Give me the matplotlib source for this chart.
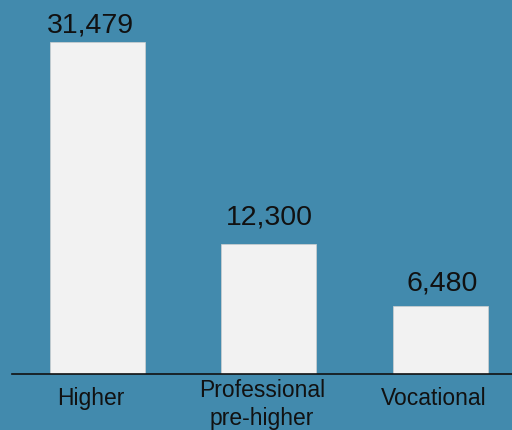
import matplotlib.pyplot as plt
import matplotlib.transforms as mtransforms

categories = ["Higher", "Professional\npre-higher", "Vocational"]
values = [31479, 12300, 6480]

# label nudges in pixels (dx, dy above the bar top)
label_dx = [-7, 0, 2]
label_dy = [10, 20, 15]

bg = "#428aad"
plt.rcParams['font.family'] = ['Liberation Sans', 'DejaVu Sans']

fig = plt.figure(figsize=(5.12, 4.30), dpi=100, facecolor=bg)
ax = fig.add_axes([12/512, 56/430, 500/512, 374/430])
ax.set_facecolor(bg)

x = range(len(values))
bars = ax.bar(x, values, width=0.554, color="#f2f2f2",
              edgecolor="#d0d0d0", linewidth=0.5, zorder=2)

for b, v, dx, dy in zip(bars, values, label_dx, label_dy):
    ax.annotate(f"{v:,}", (b.get_x() + b.get_width()/2, v),
                xytext=(dx*0.72, dy*0.72), textcoords="offset points",
                ha="center", va="baseline", fontsize=20.5, color="#111111")

ax.set_xlim(-0.4985, 2.417)
ax.set_ylim(0, 31479*374/332)
ax.set_yticks([])
ax.set_xticks(list(x))
ax.set_xticklabels(categories, fontsize=16.5, va="center", linespacing=1.25)
ax.tick_params(axis="x", length=0, pad=17.5, colors="#111111")
for lab in ax.get_xticklabels():
    dy = -6/100 if "\n" in lab.get_text() else 0
    shift = mtransforms.ScaledTranslation(-7/100, dy, fig.dpi_scale_trans)
    lab.set_transform(lab.get_transform() + shift)

for s in ["top", "left", "right"]:
    ax.spines[s].set_visible(False)
ax.spines["bottom"].set_color("#111111")
ax.spines["bottom"].set_linewidth(1.2)
ax.spines["bottom"].set_zorder(3)

fig.savefig("out.png", dpi=100, facecolor=bg)
